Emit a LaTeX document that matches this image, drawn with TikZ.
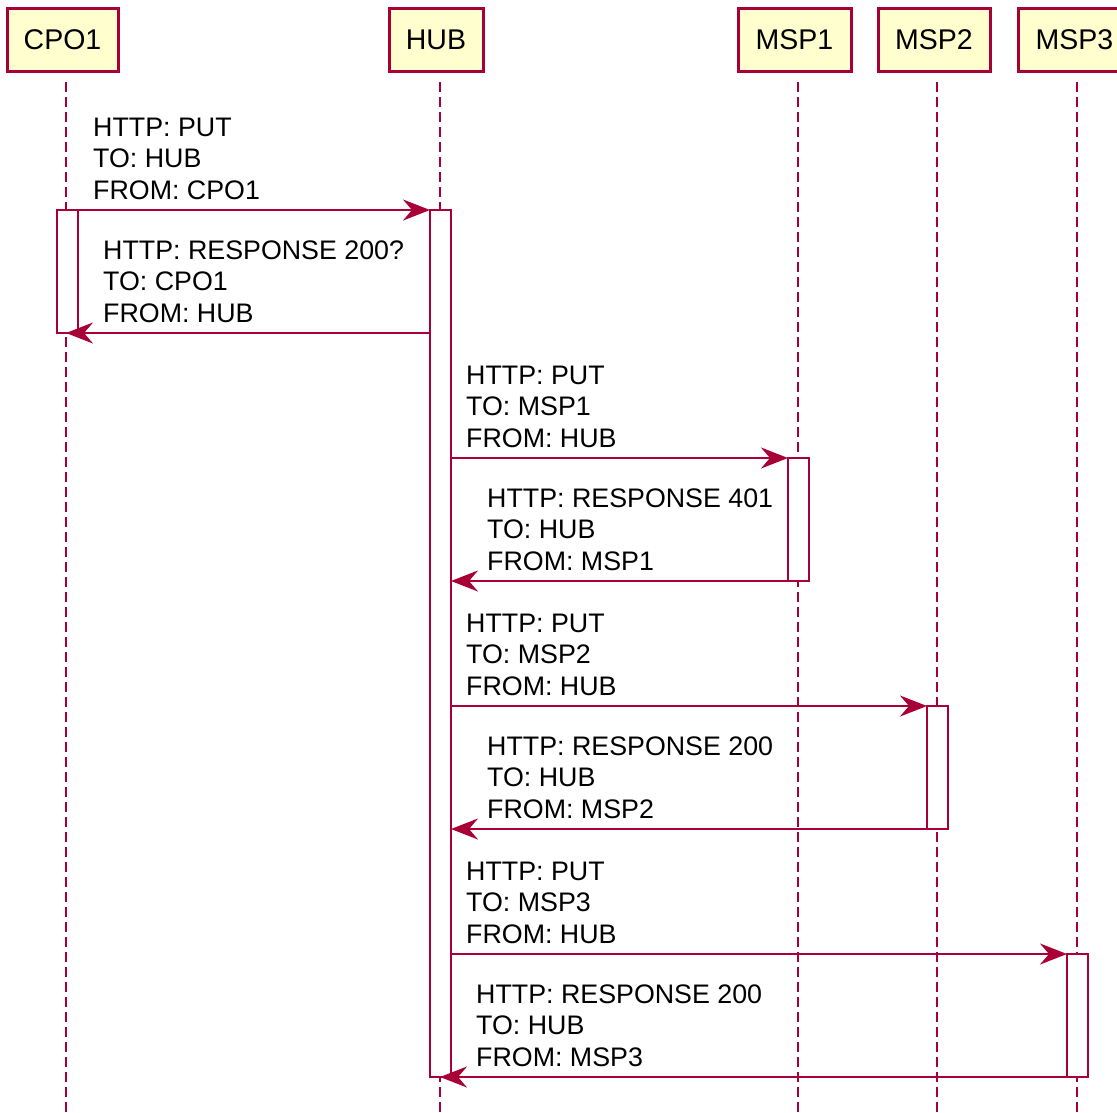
\documentclass[tikz,border=0pt]{standalone}
\usepackage{fontspec}
\setmainfont{Liberation Sans}
\usetikzlibrary{arrows.meta}
\definecolor{seqred}{HTML}{A80036}
\definecolor{seqfill}{HTML}{FEFECE}

\begin{document}
\begin{tikzpicture}[x=1pt,y=-1pt]
  \tikzset{actor box/.style={draw=seqred,line width=3pt,fill=seqfill,minimum width=#1,minimum height=63pt,inner sep=0pt,outer sep=0pt,font=\fontsize{28.5}{32}\selectfont},
    lifeline/.style={draw=seqred,line width=2pt,dash pattern=on 10pt off 5pt},
    activation/.style={draw=seqred,line width=2pt,fill=white,minimum width=21pt,minimum height=#1,inner sep=0pt,outer sep=0pt},
    msg/.style={draw=seqred,line width=2pt,-{Stealth[length=27pt,width=21pt,inset=9pt]}},
    msg text/.style={anchor=south west,align=left,inner sep=0pt,font=\fontsize{26.8}{31.5}\selectfont}}

  \useasboundingbox (0,0) rectangle (1117,1112);

  % participants
  \node [actor box=111pt] (CPO1) at (62.5,39.5) {CPO1};
  \node [actor box=94pt] (HUB) at (436,39.5) {HUB};
  \node [actor box=113pt] (MSP1) at (794.5,39.5) {MSP1};
  \node [actor box=112pt] (MSP2) at (934,39.5) {MSP2};
  \node [actor box=113pt] (MSP3) at (1074.5,39.5) {MSP3};

  \foreach \n/\x in {CPO1/66,HUB/440,MSP1/798,MSP2/937,MSP3/1077} {
    \coordinate (\n-top) at (\x,82);
    \coordinate (\n-end) at (\x,1112);
    \draw [lifeline] (\n-top) -- (\n-end);
  }

  % activations
  \node [activation=123pt] (aCPO1) at (67,271.5) {};
  \node [activation=867pt] (aHUB) at (440.5,643.5) {};
  \node [activation=123pt] (aMSP1) at (798.5,519.5) {};
  \node [activation=123pt] (aMSP2) at (937.5,767.5) {};
  \node [activation=123pt] (aMSP3) at (1077.5,1015.5) {};

  % messages
  \draw [msg] (aCPO1.north east) -- (aHUB.north west);
  \node [msg text] (m1) at (93,199.5) {HTTP: PUT\\TO: HUB\\FROM: CPO1};

  \draw [msg] (aHUB.west |- aCPO1.south) -- (CPO1-top |- aCPO1.south);
  \node [msg text] (m2) at (103,322.5) {HTTP: RESPONSE 200?\\TO: CPO1\\FROM: HUB};

  \draw [msg] (aHUB.east |- aMSP1.north) -- (aMSP1.north west);
  \node [msg text] (m3) at (466,447.5) {HTTP: PUT\\TO: MSP1\\FROM: HUB};

  \draw [msg] (aMSP1.south west) -- (aHUB.east |- aMSP1.south);
  \node [msg text] (m4) at (487,570.5) {HTTP: RESPONSE 401\\TO: HUB\\FROM: MSP1};

  \draw [msg] (aHUB.east |- aMSP2.north) -- (aMSP2.north west);
  \node [msg text] (m5) at (466,695.5) {HTTP: PUT\\TO: MSP2\\FROM: HUB};

  \draw [msg] (aMSP2.south west) -- (aHUB.east |- aMSP2.south);
  \node [msg text] (m6) at (487,818.5) {HTTP: RESPONSE 200\\TO: HUB\\FROM: MSP2};

  \draw [msg] (aHUB.east |- aMSP3.north) -- (aMSP3.north west);
  \node [msg text] (m7) at (466,943.5) {HTTP: PUT\\TO: MSP3\\FROM: HUB};

  \draw [msg] (aMSP3.south west) -- (HUB-top |- aMSP3.south);
  \node [msg text] (m8) at (476,1066.5) {HTTP: RESPONSE 200\\TO: HUB\\FROM: MSP3};
\end{tikzpicture}
\end{document}
